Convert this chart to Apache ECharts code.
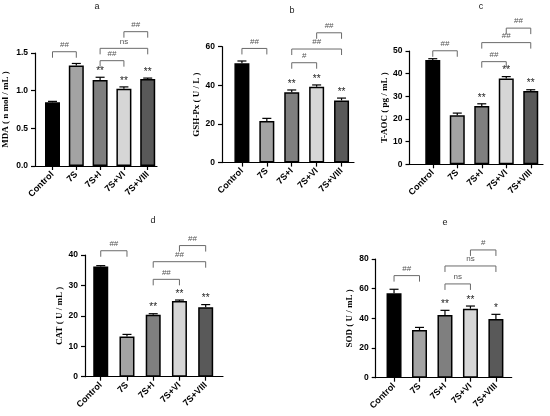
<!DOCTYPE html>
<html>
<head>
<meta charset="utf-8">
<script src="https://cdn.jsdelivr.net/npm/echarts@6/dist/echarts.min.js"></script>
<style>html,body{margin:0;padding:0;background:#fff}#c{width:550px;height:416px}</style>
</head>
<body>
<div id="c"></div>
<script>
// ---- data ----
const categories = ['Control', '7S', '7S+I', '7S+VI', '7S+VIII'];

const mdaMean = [0.846, 1.333, 1.14, 1.026, 1.155];
const mdaErr = [0.012, 0.028, 0.038, 0.024, 0.012];
const mdaStars = ['', '', '**', '**', '**'];
const mdaBrackets = [[0, 1, 1.517], [2, 3, 1.398], [2, 4, 1.562], [3, 4, 1.783]];
const mdaBracketText = ['##', '##', 'ns', '##'];

const gshMean = [51.4, 21.6, 36.4, 39.3, 32.2];
const gshErr = [1.2, 1.3, 1.2, 0.9, 1.2];
const gshStars = ['', '', '**', '**', '**'];
const gshBrackets = [[0, 1, 59.1], [2, 3, 51.7], [2, 4, 58.8], [3, 4, 67.2]];
const gshBracketText = ['##', '#', '##', '##'];

const taocMean = [46.0, 21.6, 25.7, 37.9, 32.3];
const taocErr = [0.6, 1.0, 1.0, 0.8, 0.6];
const taocStars = ['', '', '**', '**', '**'];
const taocBrackets = [[0, 1, 50.1], [2, 3, 45.3], [2, 4, 53.7], [3, 4, 60.1]];
const taocBracketText = ['##', '##', '##', '##'];

const catMean = [36.2, 13.2, 20.4, 24.9, 22.8];
const catErr = [0.3, 0.7, 0.3, 0.3, 0.9];
const catStars = ['', '', '**', '**', '**'];
const catBrackets = [[0, 1, 41.4], [2, 3, 32.0], [2, 4, 37.8], [3, 4, 43.1]];
const catBracketText = ['##', '##', '##', '##'];

const sodMean = [56.9, 32.1, 42.3, 46.5, 39.6];
const sodErr = [2.7, 1.8, 3.1, 1.8, 3.1];
const sodStars = ['', '', '**', '**', '*'];
const sodBrackets = [[0, 1, 68.8], [2, 3, 63.2], [2, 4, 75.3], [3, 4, 86.1]];
const sodBracketText = ['##', 'ns', 'ns', '#'];

const panelTitles = ['a', 'b', 'c', 'd', 'e'];
const yNames = ['MDA ( n mol / mL )', 'GSH-Px ( U / L )', 'T-AOC ( pg / mL )', 'CAT ( U / mL )', 'SOD ( U / mL )'];
const yMax = [1.5, 60, 50, 40, 80];
const yInterval = [0.5, 20, 10, 10, 20];

// ---- styles / layout ----
const barColors = ['#000000', '#a3a3a3', '#7f7f7f', '#d6d6d6', '#595959'];
const layouts = [
  {l: 31.5, t: 53, r: 157, b: 166, xmin: -0.735, xmax: 4.39, gap: 25, tx: 97, ty: 7, dec: 1},
  {l: 222, t: 46.7, r: 354, b: 162.6, xmin: -0.8, xmax: 4.5, gap: 18, tx: 292, ty: 11, dec: 0},
  {l: 409.5, t: 51, r: 543, b: 164.3, xmin: -0.95, xmax: 4.5, gap: 17, tx: 481, ty: 7, dec: 0},
  {l: 85, t: 255, r: 223, b: 376.7, xmin: -0.6, xmax: 4.66, gap: 21, tx: 153, ty: 221, dec: 0},
  {l: 375.7, t: 259, r: 511.7, b: 377.7, xmin: -0.72, xmax: 4.62, gap: 22, tx: 445, ty: 223, dec: 0}
];

const panels = [
  {mean: mdaMean, err: mdaErr, stars: mdaStars, br: mdaBrackets, brt: mdaBracketText},
  {mean: gshMean, err: gshErr, stars: gshStars, br: gshBrackets, brt: gshBracketText},
  {mean: taocMean, err: taocErr, stars: taocStars, br: taocBrackets, brt: taocBracketText},
  {mean: catMean, err: catErr, stars: catStars, br: catBrackets, brt: catBracketText},
  {mean: sodMean, err: sodErr, stars: sodStars, br: sodBrackets, brt: sodBracketText}
];

const sans = 'Liberation Sans, Arial, sans-serif';
const serif = 'Liberation Serif, Times New Roman, serif';

function errRender(stars) {
  return function (params, api) {
    const x = api.value(0), m = api.value(1), e = api.value(2);
    const p0 = api.coord([x, m]);
    const p1 = api.coord([x, m + e]);
    const ch = [
      {type: 'line', shape: {x1: p0[0], y1: p0[1], x2: p1[0], y2: p1[1]}, style: {stroke: '#000', lineWidth: 1.2}},
      {type: 'line', shape: {x1: p1[0] - 4.5, y1: p1[1], x2: p1[0] + 4.5, y2: p1[1]}, style: {stroke: '#000', lineWidth: 1.2}}
    ];
    const s = stars[params.dataIndex];
    if (s) {
      ch.push({type: 'text', x: p1[0], y: p1[1] - 1, style: {text: s, align: 'center', verticalAlign: 'bottom', fontSize: 10, fontFamily: sans, fill: '#222'}});
    }
    return {type: 'group', children: ch};
  };
}

function bracketRender(texts) {
  return function (params, api) {
    const x1 = api.value(0), x2 = api.value(1), y = api.value(2);
    const a = api.coord([x1, y]);
    const b = api.coord([x2, y]);
    return {type: 'group', children: [
      {type: 'polyline', shape: {points: [[a[0], a[1] + 6], [a[0], a[1]], [b[0], b[1]], [b[0], b[1] + 6]]}, style: {stroke: '#6a6a6a', lineWidth: 1, fill: null}},
      {type: 'text', x: (a[0] + b[0]) / 2, y: a[1] - 3, style: {text: texts[params.dataIndex], align: 'center', verticalAlign: 'bottom', fontSize: 8, fontFamily: sans, fill: '#555'}}
    ]};
  };
}

const grid = [], xAxis = [], yAxis = [], series = [], graphic = [];
layouts.forEach((L, i) => {
  const P = panels[i];
  grid.push({left: L.l, top: L.t, width: L.r - L.l, height: L.b - L.t, containLabel: false});
  xAxis.push({
    type: 'value', gridIndex: i, min: L.xmin, max: L.xmax,
    splitLine: {show: false},
    axisLine: {onZero: false, lineStyle: {color: '#000', width: 1.2}},
    axisTick: {customValues: [0, 1, 2, 3, 4], length: 4, lineStyle: {color: '#000', width: 1.2}},
    axisLabel: {customValues: [0, 1, 2, 3, 4], formatter: v => categories[Math.round(v)], rotate: 45, margin: 7,
      fontSize: 9, fontWeight: 'bold', fontFamily: sans, color: '#000'}
  });
  yAxis.push({
    type: 'value', gridIndex: i, min: 0, max: yMax[i], interval: yInterval[i],
    splitLine: {show: false},
    axisLine: {show: true, onZero: false, lineStyle: {color: '#000', width: 1.2}},
    axisTick: {show: true, length: 4, lineStyle: {color: '#000', width: 1.2}},
    axisLabel: {margin: 7, fontSize: 8.5, fontWeight: 'bold', fontFamily: sans, color: '#000',
      formatter: v => v.toFixed(L.dec)},
    name: yNames[i], nameLocation: 'middle', nameGap: L.gap,
    nameTextStyle: {fontSize: 9, fontWeight: 'bold', fontFamily: serif, color: '#000'}
  });
  series.push({
    type: 'bar', xAxisIndex: i, yAxisIndex: i, barWidth: 15, z: 2,
    itemStyle: {borderColor: '#000', borderWidth: 1.5},
    data: P.mean.map((v, k) => ({value: [k, v], itemStyle: {color: barColors[k]}}))
  });
  series.push({
    type: 'custom', xAxisIndex: i, yAxisIndex: i, z: 3, clip: false,
    renderItem: errRender(P.stars),
    data: P.mean.map((v, k) => [k, v, P.err[k]])
  });
  series.push({
    type: 'custom', xAxisIndex: i, yAxisIndex: i, z: 3, clip: false,
    renderItem: bracketRender(P.brt),
    data: P.br
  });
  graphic.push({type: 'text', x: L.tx, y: L.ty, style: {text: panelTitles[i], align: 'center', verticalAlign: 'middle', fontSize: 9, fontFamily: sans, fill: '#222'}});
});

const chart = echarts.init(document.getElementById('c'), null, {renderer: 'canvas'});
chart.setOption({animation: false, backgroundColor: '#fff', grid, xAxis, yAxis, series, graphic, tooltip: {show: false}});
</script>
</body>
</html>
